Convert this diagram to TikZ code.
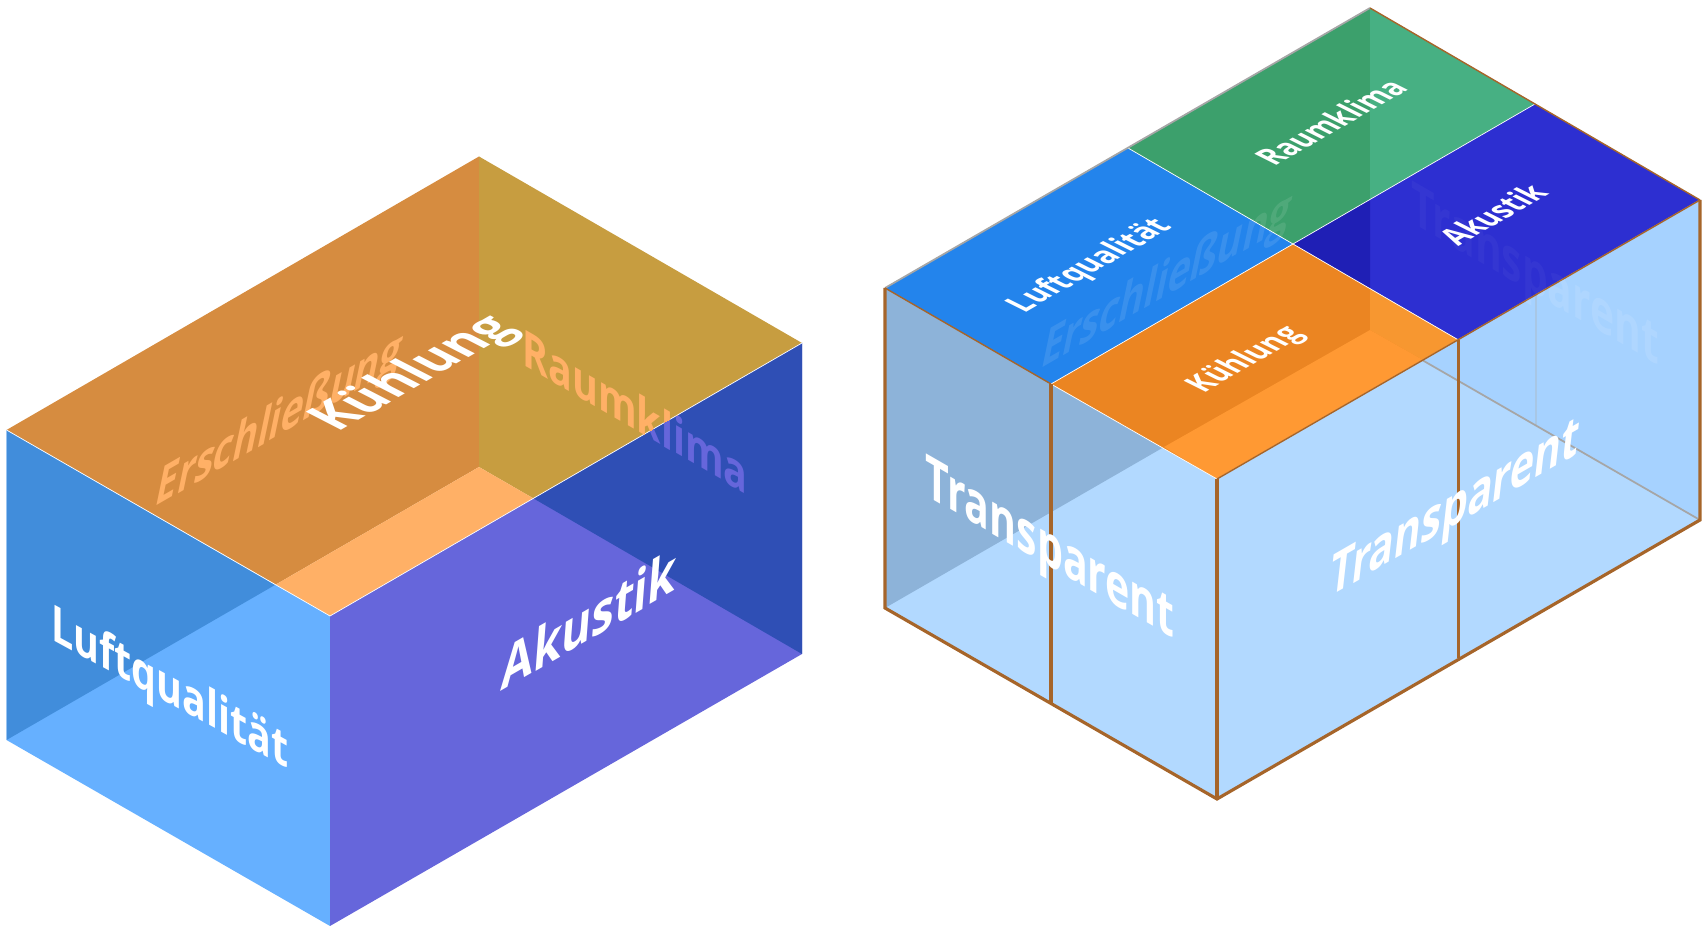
\documentclass[tikz,border=0pt]{standalone}
\usepackage{fontspec}
\setmainfont{Open Sans}
\usepackage{tikz}
\tikzstyle{boxPlane} = [x = .01cm, y = -.01cm]
\definecolor{floorOrange}{HTML}{FFB066}
\definecolor{wallOrange}{HTML}{D68C40}
\definecolor{wallGold}{HTML}{C79D40}
\definecolor{faceBlue}{HTML}{66B0FF}
\definecolor{faceBlueDark}{HTML}{418DDB}
\definecolor{facePurple}{HTML}{6666DB}
\definecolor{facePurpleDark}{HTML}{2F4FB5}
\definecolor{glassFront}{HTML}{B2D9FF}
\definecolor{glassBack}{HTML}{A6D2FF}
\definecolor{glassDark}{HTML}{8DB3D9}
\definecolor{tileBlue}{HTML}{2384EC}
\definecolor{tileGreen}{HTML}{3CA06C}
\definecolor{tileGreenLight}{HTML}{47B083}
\definecolor{tileNavy}{HTML}{2D2FD1}
\definecolor{tileNavyDark}{HTML}{1F1FB5}
\definecolor{tileOrange}{HTML}{EB8522}
\definecolor{tileOrangeLight}{HTML}{FF9933}
\definecolor{tileOrangeMid}{HTML}{F79730}
\definecolor{edgeBrown}{HTML}{A6652A}
\tikzstyle{faceLabel} = [font=\fontsize{16}{16}\selectfont\bfseries, text=white, anchor=base, inner sep=0pt]
\tikzstyle{ghostLabel} = [text opacity=.1]
\tikzstyle{ghostNavyLabel} = [text opacity=.035]
\tikzstyle{seamLine} = [color=white, line width=.2pt]
\tikzstyle{frameLine} = [color=edgeBrown, line width=.9pt]
\tikzstyle{rimLine} = [color=edgeBrown, line width=.4pt]
\tikzstyle{hiddenLine} = [color=gray!70, line width=.5pt]
\newcommand{\facePatch}[2]{\fill [#1] #2 -- cycle;}
\newcommand{\faceText}[9]{\node (#1) [faceLabel, cm={#4,#5,#6,#7,(0,0)}, #8] at (#2,#3) {#9};}
\begin{document}
\begin{tikzpicture}[boxPlane]
  \useasboundingbox (0,0) rectangle (1702,928);

  % open box
  \coordinate (lLeft) at (6.5,430);
  \coordinate (lBack) at (479,156.5);
  \coordinate (lRight) at (802,343);
  \coordinate (lFront) at (330,616);
  \coordinate (lLeftFoot) at (6.5,740);
  \coordinate (lRightFoot) at (802,654);
  \coordinate (lFrontFoot) at (330,926);
  \coordinate (lBackFoot) at (479,467);
  \coordinate (lCutLeft) at (275,585);
  \coordinate (lCutRight) at (533.6,498.5);

  \facePatch{wallOrange}{(lLeft) -- (lBack) -- (lBackFoot) -- (lCutLeft)}
  \facePatch{wallGold}{(lBack) -- (lRight) -- (lCutRight) -- (lBackFoot)}
  \facePatch{floorOrange}{(lBackFoot) -- (lCutRight) -- (lFront) -- (lCutLeft)}
  \facePatch{faceBlue}{(lLeft) -- (lFront) -- (lFrontFoot) -- (lLeftFoot)}
  \facePatch{faceBlueDark}{(lLeft) -- (lCutLeft) -- (lLeftFoot)}
  \facePatch{facePurple}{(lFront) -- (lRight) -- (lRightFoot) -- (lFrontFoot)}
  \facePatch{facePurpleDark}{(lRight) -- (lCutRight) -- (lRightFoot)}
  \draw [seamLine] (lLeft) -- (lFront) -- (lRight);

  \faceText{lErsch}{276}{437}{.67}{.387}{.205}{.98}{text=floorOrange}{Erschließung}
  \begin{scope}
    \clip (lBack) -- (lRight) -- (lCutRight) -- (lBackFoot) -- cycle;
    \faceText{lRaumWall}{635}{430}{.70}{-.404}{0}{.9}{text=floorOrange}{Raumklima}
  \end{scope}
  \begin{scope}
    \clip (lRight) -- (lCutRight) -- (lRightFoot) -- cycle;
    \faceText{lRaumFace}{635}{430}{.70}{-.404}{0}{.9}{text=facePurple}{Raumklima}
  \end{scope}
  \faceText{lKuehl}{428}{381}{.77}{.444}{-.875}{.45}{}{Kühlung}
  \faceText{lLuft}{170}{704}{.70}{-.383}{0}{.9}{}{Luftqualität}
  \faceText{lAkustik}{588}{641}{.81}{.468}{.08}{1.05}{}{Akustik}

  % glass box with roof tiles
  \coordinate (rLeft) at (885,288);
  \coordinate (rBack) at (1370,8);
  \coordinate (rRight) at (1700,200);
  \coordinate (rFront) at (1217,479);
  \coordinate (rLeftFoot) at (885,608);
  \coordinate (rRightFoot) at (1700,520);
  \coordinate (rFrontFoot) at (1217,799);
  \coordinate (rBackFoot) at (1370,330);
  \coordinate (rMidLeft) at (1051,384);
  \coordinate (rMidLeftFoot) at (1051,704);
  \coordinate (rMidRight) at (1458.5,340);
  \coordinate (rMidRightFoot) at (1458.5,658);
  \coordinate (rMidBackLeft) at (1128,148);
  \coordinate (rMidBackRight) at (1535,104);
  \coordinate (rCentre) at (1293,244);
  \coordinate (rCutLeft) at (1164,447);
  \coordinate (rCutRight) at (1423,360);
  \coordinate (rPostTop) at (1370,200);
  \coordinate (rPostLow) at (1370,288.5);
  \coordinate (rFaintTop) at (1536,294);
  \coordinate (rFaintLow) at (1536,425);

  \facePatch{glassFront}{(rLeft) -- (rFront) -- (rRight) -- (rRightFoot) -- (rFrontFoot) -- (rLeftFoot)}
  \facePatch{glassDark}{(rLeft) -- (rCutLeft) -- (rLeftFoot)}
  \facePatch{glassBack}{(rBackFoot) -- (rRight) -- (rRightFoot)}
  \draw [color=glassFront!80!gray, line width=.4pt] (rFaintTop) -- (rFaintLow);
  \draw [hiddenLine] (rBackFoot) -- (rRightFoot);

  \facePatch{tileBlue}{(rLeft) -- (rMidBackLeft) -- (rCentre) -- (rMidLeft)}
  \facePatch{tileGreen}{(rMidBackLeft) -- (rBack) -- (rMidBackRight) -- (rCentre)}
  \facePatch{tileGreenLight}{(rBack) -- (rMidBackRight) -- (rPostTop)}
  \facePatch{tileNavy}{(rCentre) -- (rMidBackRight) -- (rRight) -- (rMidRight)}
  \facePatch{tileNavyDark}{(rCentre) -- (rPostTop) -- (rPostLow)}
  \facePatch{tileOrange}{(rMidLeft) -- (rCentre) -- (rMidRight) -- (rFront)}
  \facePatch{tileOrangeMid}{(rPostLow) -- (rMidRight) -- (rCutRight) -- (rBackFoot)}
  \facePatch{tileOrangeLight}{(rCutLeft) -- (rBackFoot) -- (rCutRight) -- (rFront)}
  \draw [seamLine] (rMidBackLeft) -- (rCentre) -- (rMidRight) (rMidLeft) -- (rCentre) -- (rMidBackRight);
  \draw [seamLine] (rMidLeft) -- (rFront) -- (rRight);
  \draw [hiddenLine] (rLeft) -- (rBack);
  \draw [rimLine] (rBack) -- (rRight) (rLeft) -- (rMidLeft) (rFront) -- (rRight);

  \draw [frameLine] (rLeft) -- (rLeftFoot) -- (rFrontFoot) -- (rRightFoot) -- (rRight);
  \draw [frameLine] (rMidLeft) -- (rMidLeftFoot);
  \draw [frameLine] (rFront) -- (rFrontFoot);
  \draw [frameLine] (rMidRight) -- (rMidRightFoot);

  \faceText{rErsch}{1163}{298}{.68}{.393}{.205}{.98}{ghostLabel}{Erschließung}
  \begin{scope}
    \clip (rCentre) -- (rMidBackRight) -- (rRight) -- (rMidRight) -- cycle;
    \faceText{rGhostRoof}{1535}{294}{.725}{-.419}{0}{1.05}{ghostNavyLabel}{Transparent}
  \end{scope}
  \begin{scope}
    \clip (rMidRight) -- (rRight) -- (rRightFoot) -- cycle;
    \faceText{rGhostWall}{1535}{294}{.725}{-.419}{0}{1.05}{ghostLabel}{Transparent}
  \end{scope}
  \faceText{rLuft}{1099}{270}{.44}{.254}{-.55}{.275}{}{Luftqualität}
  \faceText{rRaum}{1342}{128}{.42}{.242}{-.55}{.275}{}{Raumklima}
  \faceText{rKuehl}{1254}{364}{.43}{.248}{-.55}{.275}{}{Kühlung}
  \faceText{rAkustik}{1504}{220}{.425}{.245}{-.55}{.275}{}{Akustik}
  \faceText{rTransLeft}{1050}{567}{.73}{-.42}{0}{1.05}{}{Transparent}
  \faceText{rTransRight}{1453}{526}{.73}{.42}{.12}{1.05}{}{Transparent}
\end{tikzpicture}
\end{document}
